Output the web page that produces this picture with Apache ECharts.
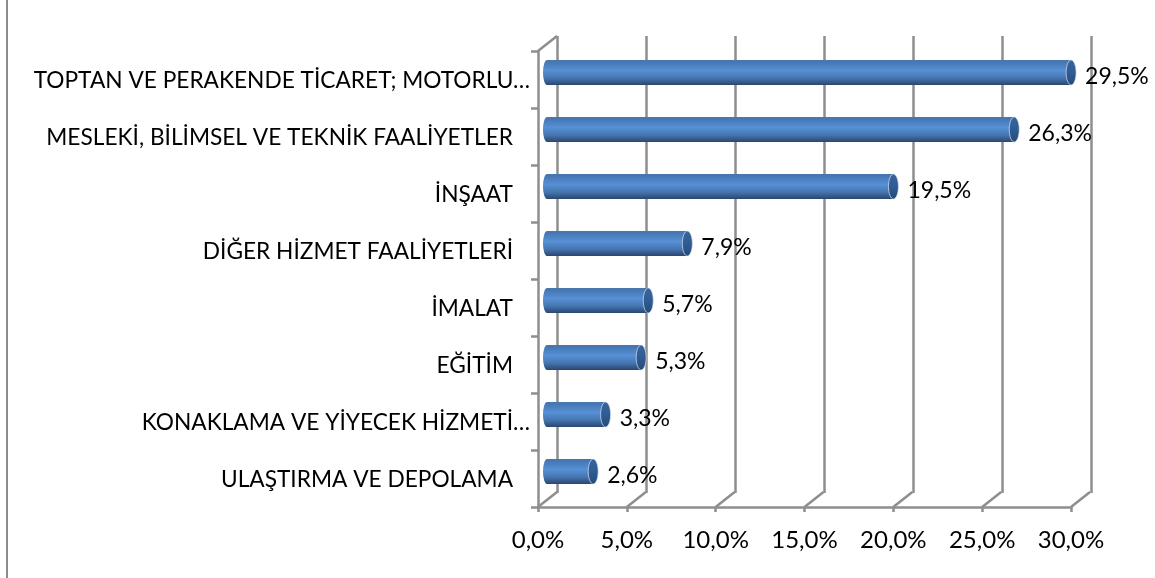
<!DOCTYPE html>
<html><head><meta charset="utf-8">
<style>html,body{margin:0;padding:0;background:#fff}#c{width:1155px;height:578px}</style>
<script src="https://cdn.jsdelivr.net/npm/echarts@6/dist/echarts.min.js"></script>
</head><body><div id="c"></div>
<script>
const categories = ["TOPTAN VE PERAKENDE TİCARET; MOTORLU…","MESLEKİ, BİLİMSEL VE TEKNİK FAALİYETLER","İNŞAAT","DİĞER HİZMET FAALİYETLERİ","İMALAT","EĞİTİM","KONAKLAMA VE YİYECEK HİZMETİ…","ULAŞTIRMA VE DEPOLAMA"];
const values = [29.5,26.3,19.5,7.9,5.7,5.3,3.3,2.6];
const xTicks = [0,5,10,15,20,25,30];
const font = 'Lato, "Open Sans", sans-serif';
const axisColor = '#8e8e8e';
const depthX = 19, depthY = 15;
const chart = echarts.init(document.getElementById('c'), null, {renderer:'canvas'});
const barGrad = new echarts.graphic.LinearGradient(0,0,0,1,[
 {offset:0,color:'#4a77ab'},{offset:0.08,color:'#4577b3'},{offset:0.42,color:'#5790d6'},{offset:0.72,color:'#4676b0'},{offset:1,color:'#2a4670'}]);
const capGrad = new echarts.graphic.LinearGradient(0,0,0,1,[
 {offset:0,color:'#3a659b'},{offset:0.5,color:'#2f5c94'},{offset:1,color:'#264a78'}]);
chart.setOption({
 animation:false,
 backgroundColor:'#fff',
 graphic:[{type:'line',shape:{x1:7,y1:0,x2:7,y2:578},style:{stroke:'#8c8c8c',lineWidth:2},silent:true}],
 grid:[
  {left:538,top:51,width:533,height:456},
  {left:557,top:36,width:534,height:457},
  {left:547,top:44,width:533,height:456}
 ],
 xAxis:[
  {gridIndex:0,type:'value',min:0,max:30,interval:5,
   axisLine:{show:true,lineStyle:{color:axisColor,width:2.5}},
   axisTick:{show:true,length:5,lineStyle:{color:axisColor,width:2.5}},
   splitLine:{show:false},
   axisLabel:{margin:21,fontFamily:font,fontSize:24,color:'#000',hideOverlap:false,showMinLabel:true,showMaxLabel:true,
    formatter:v=>v.toFixed(1).replace('.',',')+'%'}},
  {gridIndex:1,type:'value',min:0,max:30,interval:5,
   axisLine:{show:false},axisTick:{show:false},axisLabel:{show:false},
   splitLine:{show:true,lineStyle:{color:axisColor,width:2.5}}},
  {gridIndex:2,type:'value',min:0,max:30,interval:5,
   axisLine:{show:false},axisTick:{show:false},axisLabel:{show:false},splitLine:{show:false}}
 ],
 yAxis:[
  {gridIndex:0,type:'category',inverse:true,data:categories,
   axisLine:{show:true,lineStyle:{color:axisColor,width:2.5}},
   axisTick:{show:true,length:7,alignWithLabel:false,lineStyle:{color:axisColor,width:2.5}},
   axisLabel:{margin:8,interval:0,fontFamily:font,
    formatter:s=>s.endsWith('…')?'{e|'+s+'}':'{n|'+s+'}',
    rich:{e:{fontFamily:font,fontSize:22.7,color:'#000',padding:[3,0,0,0]},
          n:{fontFamily:font,fontSize:22.7,color:'#000',padding:[3,17,0,0]}}}},
  {gridIndex:1,type:'category',inverse:true,data:categories,show:false},
  {gridIndex:2,type:'category',inverse:true,data:categories,show:false}
 ],
 series:[
  {type:'custom',name:'depth',xAxisIndex:0,yAxisIndex:0,silent:true,z:1,
   data:xTicks.map(t=>[t,categories.length-1]),
   encode:{x:0,y:1},
   renderItem:(p,api)=>{
     const c=api.coord([api.value(0),categories.length-1]);
     const b=p.coordSys.y+p.coordSys.height;
     const lines=[{type:'line',shape:{x1:c[0],y1:b,x2:c[0]+depthX,y2:b-depthY},style:{stroke:axisColor,lineWidth:2.5}}];
     if(p.dataIndex===0){const t=p.coordSys.y;
       lines.push({type:'line',shape:{x1:c[0],y1:t,x2:c[0]+depthX,y2:t-depthY},style:{stroke:axisColor,lineWidth:2.5}});}
     return {type:'group',children:lines};
   }},
  {type:'custom',name:'Pay',xAxisIndex:2,yAxisIndex:2,z:5,
   data:values.map((v,i)=>[v,i]),
   encode:{x:0,y:1},
   renderItem:(p,api)=>{
     const v=api.value(0), i=api.value(1);
     const e=api.coord([v,i]), s=api.coord([0,i]);
     const h=25, ry=h/2;
     return {type:'group',children:[
      {type:'path',shape:{pathData:`M ${s[0]} ${s[1]-ry} L ${e[0]} ${e[1]-ry} L ${e[0]} ${e[1]+ry} L ${s[0]} ${s[1]+ry} A 4 ${ry} 0 0 1 ${s[0]} ${s[1]-ry} Z`,
        x:s[0]-4,y:s[1]-ry,width:e[0]-s[0]+4,height:h},
       style:{fill:barGrad}},
      {type:'ellipse',shape:{cx:e[0],cy:e[1],rx:5,ry:ry},style:{fill:capGrad,stroke:'#dbe5f2',lineWidth:0.7}},
      {type:'text',x:e[0]+14,y:e[1]+4,z2:10,style:{text:v.toFixed(1).replace('.',',')+'%',fontFamily:font,fontSize:23,fill:'#000',verticalAlign:'middle',align:'left'}}
     ]};
   }}
 ]
});
</script></body></html>
